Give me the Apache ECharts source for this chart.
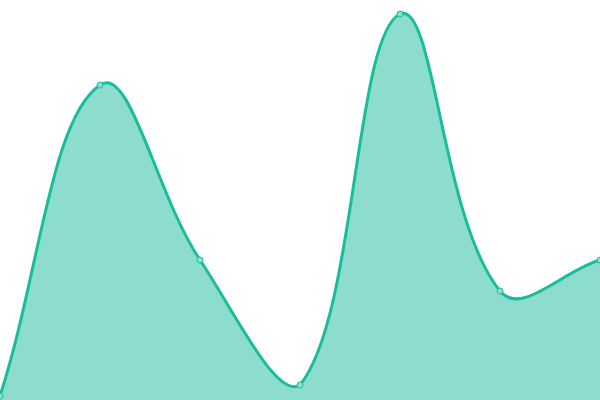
<!DOCTYPE html>
<html>
<head>
<meta charset="utf-8">
<script src="https://cdn.jsdelivr.net/npm/echarts@6/dist/echarts.min.js"></script>
<style>
  html, body { margin: 0; padding: 0; background: #fff; }
  #chart { width: 600px; height: 400px; }
</style>
</head>
<body>
<div id="chart"></div>
<script>
// 数据
const categories = ['A', 'B', 'C', 'D', 'E', 'F', 'G'];
const values = [4, 315, 140, 15, 386, 109, 140];

const lineColor = '#1abc9c';
const areaColor = 'rgba(26, 188, 156, 0.5)';
const tension = 0.4;

// 张力样条，控制点限制在绘图区内
function bezierPath(pts, rect) {
  let cap = (c) => [
    Math.min(Math.max(c[0], rect.x), rect.x + rect.width),
    Math.min(Math.max(c[1], rect.y), rect.y + rect.height)
  ];
  let cps = pts.map((p, i) => {
    let prev = pts[i - 1] || p, next = pts[i + 1] || p;
    let d01 = Math.hypot(p[0] - prev[0], p[1] - prev[1]);
    let d12 = Math.hypot(next[0] - p[0], next[1] - p[1]);
    let s01 = d01 / (d01 + d12), s12 = d12 / (d01 + d12);
    if (isNaN(s01)) s01 = 0;
    if (isNaN(s12)) s12 = 0;
    let fa = tension * s01, fb = tension * s12;
    let dx = next[0] - prev[0], dy = next[1] - prev[1];
    return {
      before: cap([p[0] - fa * dx, p[1] - fa * dy]),
      after: cap([p[0] + fb * dx, p[1] + fb * dy])
    };
  });
  let d = 'M' + pts[0][0] + ' ' + pts[0][1];
  for (let i = 1; i < pts.length; i++) {
    let c1 = cps[i - 1].after, c2 = cps[i].before, p = pts[i];
    d += ' C' + c1[0] + ' ' + c1[1] + ' ' + c2[0] + ' ' + c2[1] + ' ' + p[0] + ' ' + p[1];
  }
  return d;
}

function renderCurve(params, api) {
  if (params.dataIndex !== 0) return null;
  let pts = values.map((v, i) => api.coord([i, v]));
  let base = api.coord([0, 0])[1];
  let line = bezierPath(pts, params.coordSys);
  let area = line + ' L' + pts[pts.length - 1][0] + ' ' + base + ' L' + pts[0][0] + ' ' + base + ' Z';
  return {
    type: 'group',
    children: [
      { type: 'path', shape: { pathData: area }, style: { fill: areaColor, stroke: null } },
      { type: 'path', shape: { pathData: line }, style: { fill: null, stroke: lineColor, lineWidth: 3 } }
    ]
  };
}

let myChart = echarts.init(document.getElementById('chart'));
myChart.setOption({
  animation: false,
  grid: { left: 0, right: 0, top: 0, bottom: 0 },
  xAxis: {
    type: 'category',
    data: categories,
    boundaryGap: false,
    show: false
  },
  yAxis: {
    type: 'value',
    min: 0,
    max: 400,
    show: false
  },
  series: [
    {
      type: 'custom',
      renderItem: renderCurve,
      data: values.map((v, i) => [i, v]),
      z: 1
    },
    {
      type: 'line',
      data: values,
      symbol: 'circle',
      symbolSize: 6,
      lineStyle: { width: 0 },
      itemStyle: { color: '#8ae0d0', borderColor: lineColor, borderWidth: 1 },
      z: 3
    }
  ]
});
</script>
</body>
</html>
